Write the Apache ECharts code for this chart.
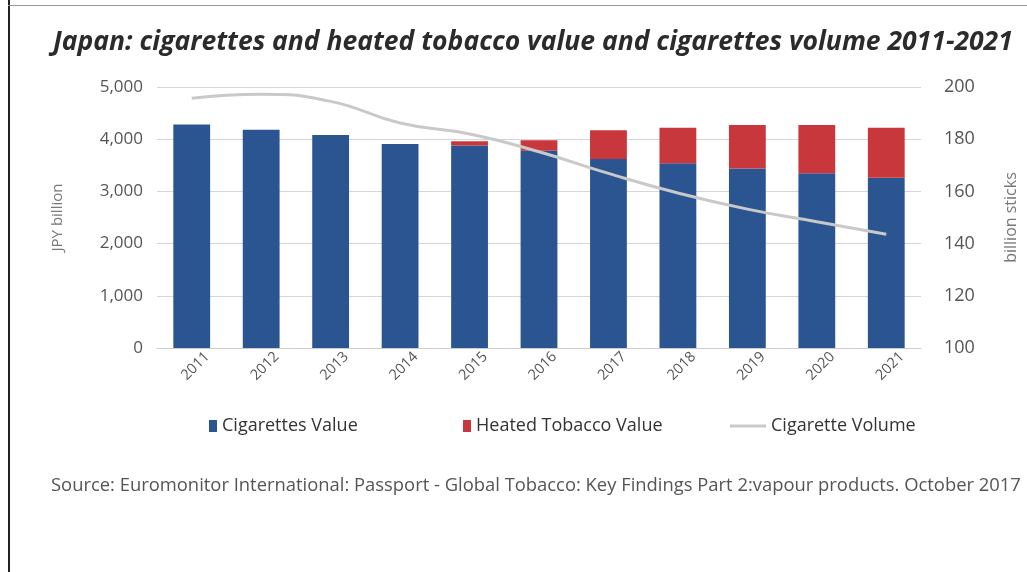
<!DOCTYPE html>
<html>
<head>
<meta charset="utf-8">
<script src="https://cdn.jsdelivr.net/npm/echarts@6/dist/echarts.min.js"></script>
<style>
html,body{margin:0;padding:0;background:#fff;}
#chart{width:1027px;height:572px;}
</style>
</head>
<body>
<div id="chart"></div>
<script>
const years = ['2011','2012','2013','2014','2015','2016','2017','2018','2019','2020','2021'];
const cigarettesValue = [4280, 4180, 4080, 3910, 3880, 3780, 3620, 3540, 3440, 3350, 3260];
const heatedValue = [0, 0, 0, 0, 80, 200, 550, 680, 830, 920, 960];
const cigaretteVolume = [195.7, 197.2, 194.5, 186.2, 182.0, 175.2, 166.9, 159.4, 153.2, 148.4, 143.6];
const leftTicks = [0, 5000, 1000];
const rightTicks = [100, 200, 20];

const chart = echarts.init(document.getElementById('chart'));
const labelColor = '#555';
const legendText = {fontFamily: 'Open Sans', fontSize: 18, color: '#333'};
chart.setOption({
  backgroundColor: '#fff',
  animation: false,
  title: [{
    text: 'Japan: cigarettes and heated tobacco value and cigarettes volume 2011-2021',
    left: 48, top: 24,
    textStyle: {fontFamily: 'Open Sans', fontStyle: 'italic', fontWeight: 'bold', fontSize: 26.5, color: '#2b2b2b'}
  }, {
    text: 'Source: Euromonitor International: Passport - Global Tobacco: Key Findings Part 2:vapour products. October 2017',
    left: 46, top: 472,
    textStyle: {fontFamily: 'Open Sans', fontWeight: 'normal', fontSize: 18.4, color: '#555'}
  }],
  graphic: [
    {type: 'rect', shape: {x: 8, y: 0, width: 2, height: 572}, style: {fill: '#222'}},
    {type: 'rect', shape: {x: 8, y: 5, width: 1019, height: 1}, style: {fill: '#999'}}
  ],
  legend: [
    {data: ['Cigarettes Value'], left: 204, top: 412, itemWidth: 8, itemHeight: 12, itemGap: 6, icon: 'rect', textStyle: legendText},
    {data: ['Heated Tobacco Value'], left: 458, top: 412, itemWidth: 8, itemHeight: 12, icon: 'rect', textStyle: legendText},
    {data: ['Cigarette Volume'], left: 725, top: 412, itemWidth: 36, itemHeight: 3, icon: 'rect', textStyle: legendText}
  ],
  grid: {left: 157, right: 101, top: 87, bottom: 224, containLabel: false},
  xAxis: {
    type: 'category', data: years,
    axisLine: {show: true, lineStyle: {color: '#ccc', width: 1}},
    axisTick: {show: false},
    axisLabel: {rotate: 45, margin: 22, padding: [0, -22, 0, 0], color: labelColor, fontFamily: 'Open Sans', fontSize: 14.5}
  },
  yAxis: [{
    type: 'value', min: leftTicks[0], max: leftTicks[1], interval: leftTicks[2],
    name: 'JPY billion', nameLocation: 'middle', nameGap: 92, nameRotate: 90,
    nameTextStyle: {color: '#777', fontFamily: 'Open Sans', fontSize: 15},
    axisLine: {show: false}, axisTick: {show: false},
    splitLine: {lineStyle: {color: '#d6d6d6', width: 1}},
    axisLabel: {margin: 14, color: labelColor, fontFamily: 'Open Sans', fontSize: 17,
      formatter: v => v.toLocaleString('en-US')}
  }, {
    type: 'value', min: rightTicks[0], max: rightTicks[1], interval: rightTicks[2],
    name: 'billion sticks', nameLocation: 'middle', nameGap: 82, nameRotate: 90,
    nameTextStyle: {color: '#777', fontFamily: 'Open Sans', fontSize: 16},
    axisLine: {show: false}, axisTick: {show: false}, splitLine: {show: false},
    axisLabel: {margin: 23, color: labelColor, fontFamily: 'Open Sans', fontSize: 18}
  }],
  series: [{
    name: 'Cigarettes Value', type: 'bar', stack: 'v', data: cigarettesValue,
    barWidth: '53%', itemStyle: {color: '#2a5591'}
  }, {
    name: 'Heated Tobacco Value', type: 'bar', stack: 'v', data: heatedValue,
    barWidth: '53%', itemStyle: {color: '#c7373b'}
  }, {
    name: 'Cigarette Volume', type: 'line', yAxisIndex: 1, data: cigaretteVolume,
    smooth: true, symbol: 'none', lineStyle: {color: '#c9c9c9', width: 3}, itemStyle: {color: '#c9c9c9'}
  }]
});
</script>
</body>
</html>
